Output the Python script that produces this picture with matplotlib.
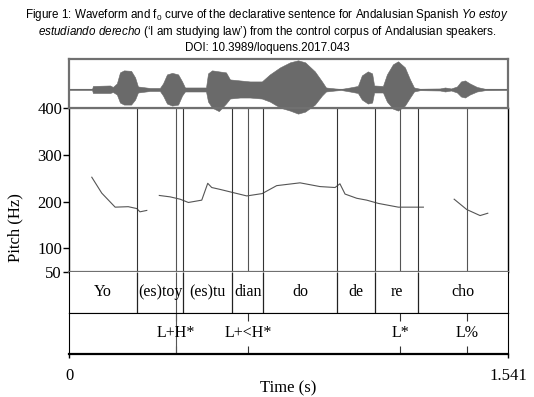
import matplotlib
matplotlib.use('Agg')
import matplotlib.pyplot as plt

# waveform envelope: time (s), upper and lower extent
wave_t = [0.000, 0.081, 0.084, 0.144, 0.154, 0.168, 0.179, 0.193, 0.218, 0.232,
          0.242, 0.284, 0.319, 0.330, 0.344, 0.362, 0.383, 0.397, 0.407, 0.460,
          0.481, 0.488, 0.502, 0.526, 0.551, 0.565, 0.600, 0.635, 0.677, 0.705,
          0.741, 0.776, 0.804, 0.829, 0.863, 0.888, 0.902, 0.934, 0.955, 0.986,
          1.014, 1.028, 1.049, 1.064, 1.071, 1.102, 1.116, 1.137, 1.155, 1.179,
          1.197, 1.211, 1.232, 1.302, 1.320, 1.341, 1.362, 1.376, 1.390, 1.407,
          1.432, 1.460, 1.541]
wave_top = [0.5, 0.5, 3.5, 4, 2.5, 6, 17, 19, 18.5, 12,
            3, 1.5, 1.5, 6, 15, 16.5, 15, 8, 2, 2,
            2, 16, 19, 18, 17, 10, 9, 8, 8, 15,
            22, 27, 29, 27, 18, 8, 2, 1, 0.5, 2,
            3.5, 14, 18, 16, 4, 3.5, 15, 25, 28, 22,
            10, 2, 0.7, 1, 2, 1, 3, 8, 9, 6,
            2.5, 0.7, 0.5]
wave_bot = [0.5, 0.5, 3.5, 3.5, 2.5, 5, 13, 15, 15, 10,
            3, 1.5, 1.5, 6, 14, 16, 15, 6, 2, 2,
            2, 12, 18, 21.5, 14, 9, 8, 8, 9, 12,
            18, 21, 24, 22, 15, 6, 2, 1, 0.5, 2,
            3.5, 10, 14, 13, 3, 3, 12, 19, 21, 16,
            8, 2, 0.7, 1, 2, 1, 3, 7, 8, 5,
            2, 0.7, 0.5]

# f0 contour, three voiced stretches
pitch_t1 = [0.080, 0.115, 0.162, 0.208, 0.238, 0.249, 0.273]
pitch_f1 = [252, 218, 188, 189, 185, 178, 181]
pitch_t2 = [0.317, 0.355, 0.390, 0.419, 0.466, 0.487, 0.501, 0.530, 0.577, 0.624,
            0.678, 0.705, 0.729, 0.811, 0.881, 0.934, 0.951, 0.969, 1.010, 1.045,
            1.086, 1.156, 1.244]
pitch_f2 = [213, 210, 205, 198, 203, 239, 230, 226, 219, 212,
            217, 226, 234, 240, 232, 230, 238, 216, 207, 203,
            196, 188, 188]
pitch_t3 = [1.352, 1.396, 1.443, 1.470]
pitch_f3 = [205, 183, 170, 175]

dur = 1.541
syll_bounds = [0.238, 0.401, 0.573, 0.682, 0.940, 1.074, 1.226]
syll_labels = ['Yo', '(es)toy', '(es)tu', 'dian', 'do', 'de', 're', 'cho']
tone_times = [0.374, 0.629, 1.162, 1.397]
tone_labels = ['L+H*', 'L+<H*', 'L*', 'L%']
pitch_ticks = [50, 100, 200, 300, 400]

plt.rcParams['font.family'] = 'Liberation Serif'
plt.rcParams['mathtext.fontset'] = 'custom'
plt.rcParams['mathtext.rm'] = 'Liberation Sans'
plt.rcParams['mathtext.it'] = 'Liberation Sans:italic'

W, H = 534, 397
fig = plt.figure(figsize=(W / 100, H / 100), dpi=100)


def box(top, bottom):
    return [69 / W, 1 - bottom / H, 439 / W, (bottom - top) / H]


grey = '#707070'
ax_pitch = fig.add_axes(box(108, 271.7))
ax_wave = fig.add_axes(box(59.3, 108), zorder=3)
ax_syl = fig.add_axes(box(271.7, 312.7))
ax_tone = fig.add_axes(box(312.7, 354))

# waveform
ax_wave.set_facecolor('none')
ax_wave.fill_between(wave_t, wave_top, [-b for b in wave_bot], color='#6a6a6a',
                     lw=0.4, clip_on=False)
ax_wave.axhline(0, color='#6a6a6a', lw=0.8)
ax_wave.set_xlim(0, dur)
ax_wave.set_ylim(-18.4, 30)
ax_wave.set_xticks([])
ax_wave.set_yticks([])
for s in ax_wave.spines.values():
    s.set_color(grey)
    s.set_linewidth(1.6)

# pitch
for t, f in [(pitch_t1, pitch_f1), (pitch_t2, pitch_f2), (pitch_t3, pitch_f3)]:
    ax_pitch.plot(t, f, color='#555555', lw=0.8)
ax_pitch.vlines(syll_bounds, 50, 400, color='#333333', lw=0.8)
ax_pitch.vlines(tone_times, 50, 400, color='#555555', lw=0.8)
ax_pitch.set_xlim(0, dur)
ax_pitch.set_ylim(50, 400)
ax_pitch.set_xticks([])
ax_pitch.set_yticks(pitch_ticks)
ax_pitch.tick_params(axis='y', length=4, width=1, pad=1, labelsize=12)
ax_pitch.spines['left'].set_linewidth(1)
ax_pitch.spines['right'].set_linewidth(1)
ax_pitch.spines['top'].set_color(grey)
ax_pitch.spines['bottom'].set_color(grey)
ax_pitch.spines['bottom'].set_linewidth(1.6)

# syllable tier
edges = [0] + syll_bounds + [dur]
ax_syl.vlines(syll_bounds, 0, 1, color='#222222', lw=0.9)
ax_syl.vlines(tone_times[0], 0, 1, color='#555555', lw=0.8)
for i, lab in enumerate(syll_labels):
    ax_syl.text((edges[i] + edges[i + 1]) / 2, 0.5, lab, ha='center', va='center',
                fontsize=11.5)
ax_syl.set_xlim(0, dur)
ax_syl.set_ylim(0, 1)
ax_syl.set_xticks([])
ax_syl.set_yticks([])
ax_syl.spines['top'].set_visible(False)

# tone tier
ax_tone.vlines(tone_times, 0, 0.2, color='#333333', lw=0.8)
ax_tone.vlines(tone_times, 0.8, 1, color='#333333', lw=0.8)
ax_tone.vlines(tone_times[0], 0, 1, color='#555555', lw=0.8)
for t, lab in zip(tone_times, tone_labels):
    ax_tone.text(t, 0.5, lab, ha='center', va='center', fontsize=11.5)
ax_tone.set_xlim(0, dur)
ax_tone.set_ylim(0, 1)
ax_tone.set_yticks([])
ax_tone.set_xticks([0, dur])
ax_tone.set_xticklabels(['0', '1.541'])
ax_tone.tick_params(axis='x', length=3, width=1, pad=7, labelsize=12)
ax_tone.spines['bottom'].set_linewidth(1.6)

fig.text(288.5 / W, 1 - 388 / H, 'Time (s)', ha='center', va='center', fontsize=12)
fig.text(15 / W, 1 - 228 / H, 'Pitch (Hz)', ha='center', va='center',
         rotation=90, fontsize=12)

# caption
cap = dict(ha='center', va='center', fontsize=8.4, family='Liberation Sans')
fig.text(0.5, 1 - 15 / H,
         r'Figure 1: Waveform and $\mathregular{f_0}$ curve of the declarative sentence '
         r'for Andalusian Spanish $\mathit{Yo\ estoy}$', **cap)
fig.text(0.5, 1 - 32 / H,
         r'$\mathit{estudiando\ derecho}$ (‘I am studying law’) from the control '
         r'corpus of Andalusian speakers.', **cap)
fig.text(0.5, 1 - 48 / H, 'DOI: 10.3989/loquens.2017.043', **cap)

fig.savefig('out.png', dpi=100)
